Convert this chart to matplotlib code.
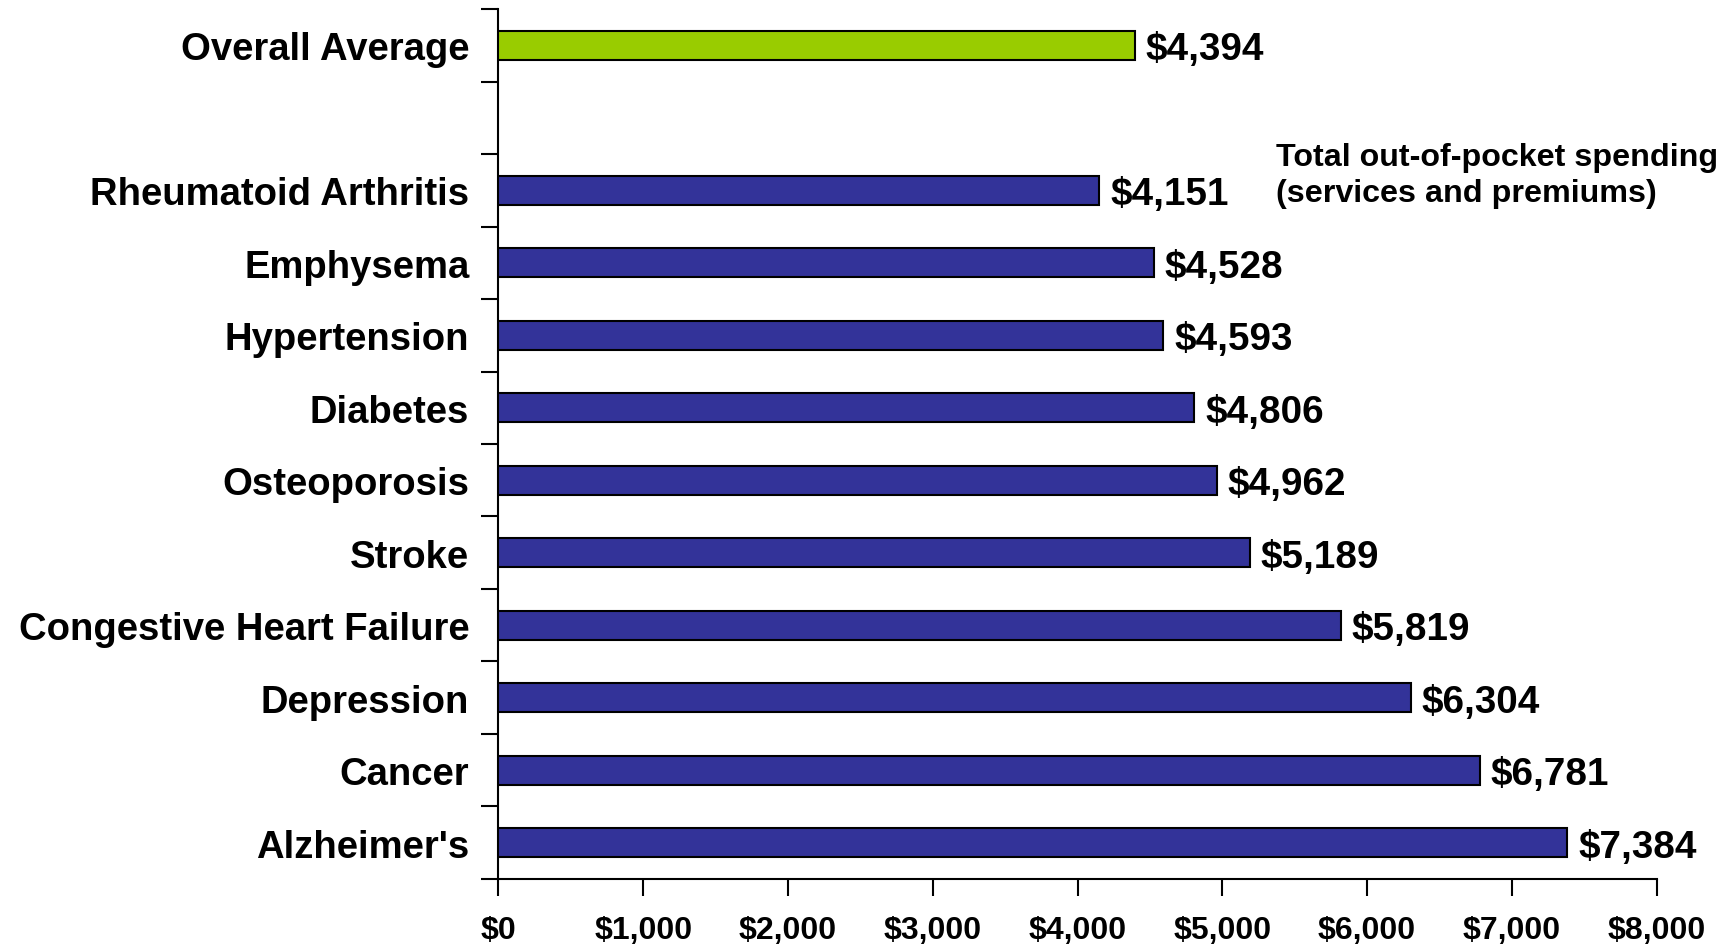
import matplotlib
matplotlib.use("Agg")
import matplotlib.pyplot as plt
import numpy as np

plt.rcParams["font.family"] = ["Liberation Sans", "DejaVu Sans"]
plt.rcParams["font.weight"] = "bold"

# chart data (top to bottom)
categories = ["Overall Average", "", "Rheumatoid Arthritis", "Emphysema", "Hypertension",
              "Diabetes", "Osteoporosis", "Stroke", "Congestive Heart Failure",
              "Depression", "Cancer", "Alzheimer's"]
values = [4394, None, 4151, 4528, 4593, 4806, 4962, 5189, 5819, 6304, 6781, 7384]
x_ticks = [0, 1000, 2000, 3000, 4000, 5000, 6000, 7000, 8000]
note = "Total out-of-pocket spending\n(services and premiums)"

GREEN = "#99CC00"
BLUE = "#333399"

fig = plt.figure(figsize=(17.35, 9.45), dpi=100)
ax = fig.add_axes([0.2873, 0.0688, 0.9548 - 0.2873, 0.9894 - 0.0688])

pos = np.arange(len(categories))
for i, v in enumerate(values):
    if v is None:
        continue
    color = GREEN if i == 0 else BLUE
    ax.barh(i, v, height=0.4, color=color, edgecolor="black", linewidth=1.5, zorder=3)
    ax.text(v + 75, i, f"${v:,}", va="center_baseline", ha="left", fontsize=27.8,
            fontweight="bold")

ax.set_xlim(0, 8000)
ax.set_ylim(len(categories) - 0.5, -0.5)

ax.set_yticks(pos)
ax.set_yticklabels(categories, fontsize=27.5, fontweight="bold")
ax.tick_params(axis="y", which="major", length=0, pad=21)
ax.set_yticks(np.arange(len(categories) + 1) - 0.5, minor=True)
ax.tick_params(axis="y", which="minor", length=12, width=1.5, direction="out")

ax.set_xticks(x_ticks)
ax.set_xticklabels([f"${t:,}" for t in x_ticks], fontsize=23, fontweight="bold")
ax.tick_params(axis="x", length=12, width=1.5, direction="out", pad=14)

for side in ["top", "right"]:
    ax.spines[side].set_visible(False)
for side in ["left", "bottom"]:
    ax.spines[side].set_linewidth(1.5)

fig.text(0.7357, 0.814, note, ha="left", va="center", fontsize=23.2,
         fontweight="bold", linespacing=1.27)

fig.savefig("out.png", dpi=100)
